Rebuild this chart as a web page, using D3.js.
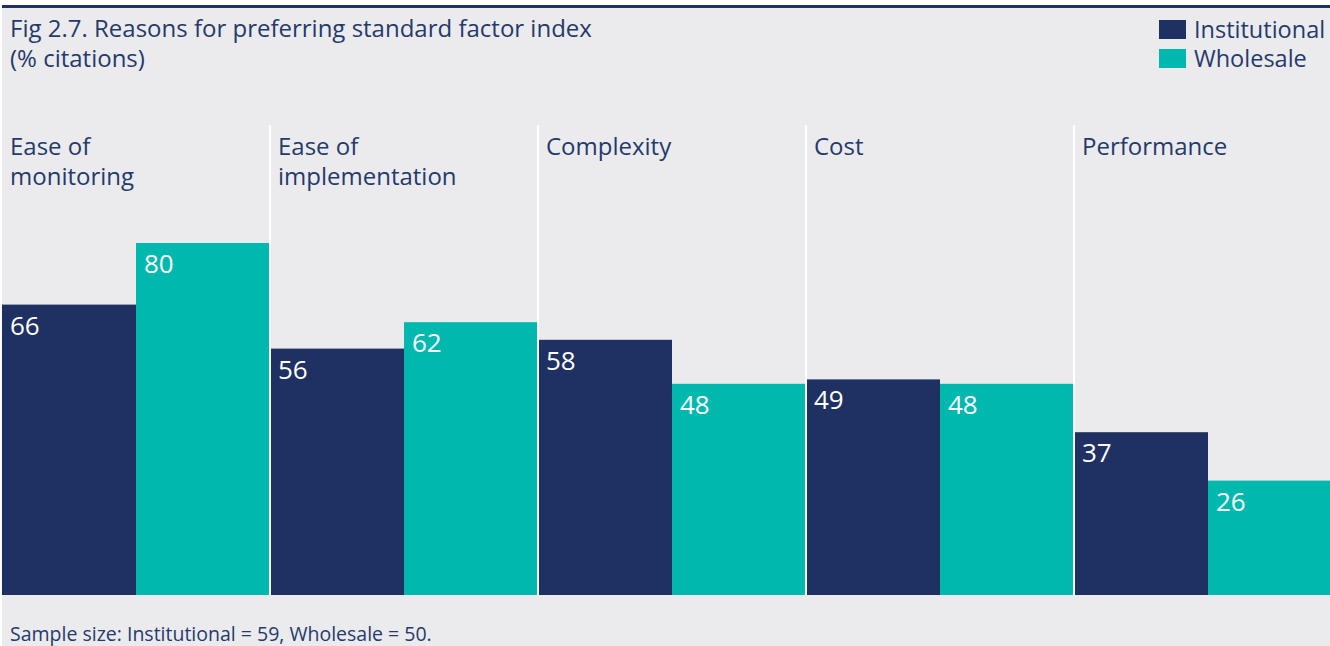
<!DOCTYPE html>
<html>
<head>
<meta charset="utf-8">
<script src="https://cdn.jsdelivr.net/npm/d3@7"></script>
<style>
  body { margin: 0; background: #fff; }
  svg { display: block; }
  text { font-family: "Open Sans", sans-serif; }
</style>
</head>
<body>
<div id="chart"></div>
<script>
// data
var categories = [["Ease of", "monitoring"], ["Ease of", "implementation"], ["Complexity"], ["Cost"], ["Performance"]];
var seriesNames = ["Institutional", "Wholesale"];
var institutional = [66, 56, 58, 49, 37];
var wholesale = [80, 62, 48, 48, 26];

var width = 1330, height = 646;
var navy = "#1f3162", teal = "#00b8ae", ink = "#253a6b", bg = "#ebebee";
var colors = [navy, teal];

var svg = d3.select("#chart").append("svg")
    .attr("width", width)
    .attr("height", height);

svg.append("rect").attr("x", 2).attr("y", 8).attr("width", width - 2).attr("height", height - 8).attr("fill", bg);
svg.append("rect").attr("x", 2).attr("y", 5).attr("width", width - 2).attr("height", 3).attr("fill", navy);

var keys = categories.map(function(c, i) { return i; });

var x0 = d3.scaleBand().domain(keys).range([2, 2 + 268 * 5]).padding(0);
var x1 = d3.scaleBand().domain([0, 1]).range([0, 268]).padding(0);
var y = d3.scaleLinear().domain([0, 100]).range([595, 155]);

var rows = keys.map(function(i) { return [institutional[i], wholesale[i]]; });

var groups = svg.append("g").selectAll("g")
    .data(rows)
    .join("g")
    .attr("transform", function(d, i) { return "translate(" + x0(i) + ",0)"; });

groups.selectAll("rect")
    .data(function(d) { return d; })
    .join("rect")
    .attr("x", function(d, j) { return x1(j); })
    .attr("y", function(d) { return y(d); })
    .attr("width", x1.bandwidth())
    .attr("height", function(d) { return y(0) - y(d); })
    .attr("fill", function(d, j) { return colors[j]; });

groups.selectAll("text.val")
    .data(function(d) { return d; })
    .join("text")
    .attr("class", "val")
    .attr("x", function(d, j) { return x1(j) + 8; })
    .attr("y", function(d) { return y(d) + 30; })
    .attr("fill", "#fff")
    .attr("font-size", 26)
    .text(function(d) { return d; });

// white separators between groups
svg.append("g").selectAll("rect")
    .data(keys.slice(1))
    .join("rect")
    .attr("x", function(i) { return x0(i) - 1; })
    .attr("y", 125)
    .attr("width", 2)
    .attr("height", 595 - 125)
    .attr("fill", "#fff");

// category labels
var cat = svg.append("g").selectAll("text")
    .data(categories)
    .join("text")
    .attr("x", function(d, i) { return x0(i) + 8; })
    .attr("y", 155)
    .attr("fill", ink)
    .attr("font-size", 24);
cat.selectAll("tspan")
    .data(function(d) { return d; })
    .join("tspan")
    .attr("x", function() { return this.parentNode.getAttribute("x"); })
    .attr("dy", function(d, k) { return k ? 30 : 0; })
    .text(function(d) { return d; });

// title
svg.append("text").attr("x", 10).attr("y", 37).attr("fill", ink).attr("font-size", 24)
    .text("Fig 2.7. Reasons for preferring standard factor index");
svg.append("text").attr("x", 10).attr("y", 67).attr("fill", ink).attr("font-size", 24)
    .text("(% citations)");

// legend
var leg = svg.append("g").selectAll("g")
    .data(seriesNames)
    .join("g")
    .attr("transform", function(d, i) { return "translate(1159," + (20 + i * 29) + ")"; });
leg.append("rect").attr("width", 27).attr("height", 19).attr("fill", function(d, i) { return colors[i]; });
leg.append("text").attr("x", 35).attr("y", 18).attr("fill", ink).attr("font-size", 23.5).text(function(d) { return d; });

// footnote
svg.append("text").attr("x", 10).attr("y", 641).attr("fill", ink).attr("font-size", 19.5)
    .text("Sample size: Institutional = 59, Wholesale = 50.");
</script>
</body>
</html>
